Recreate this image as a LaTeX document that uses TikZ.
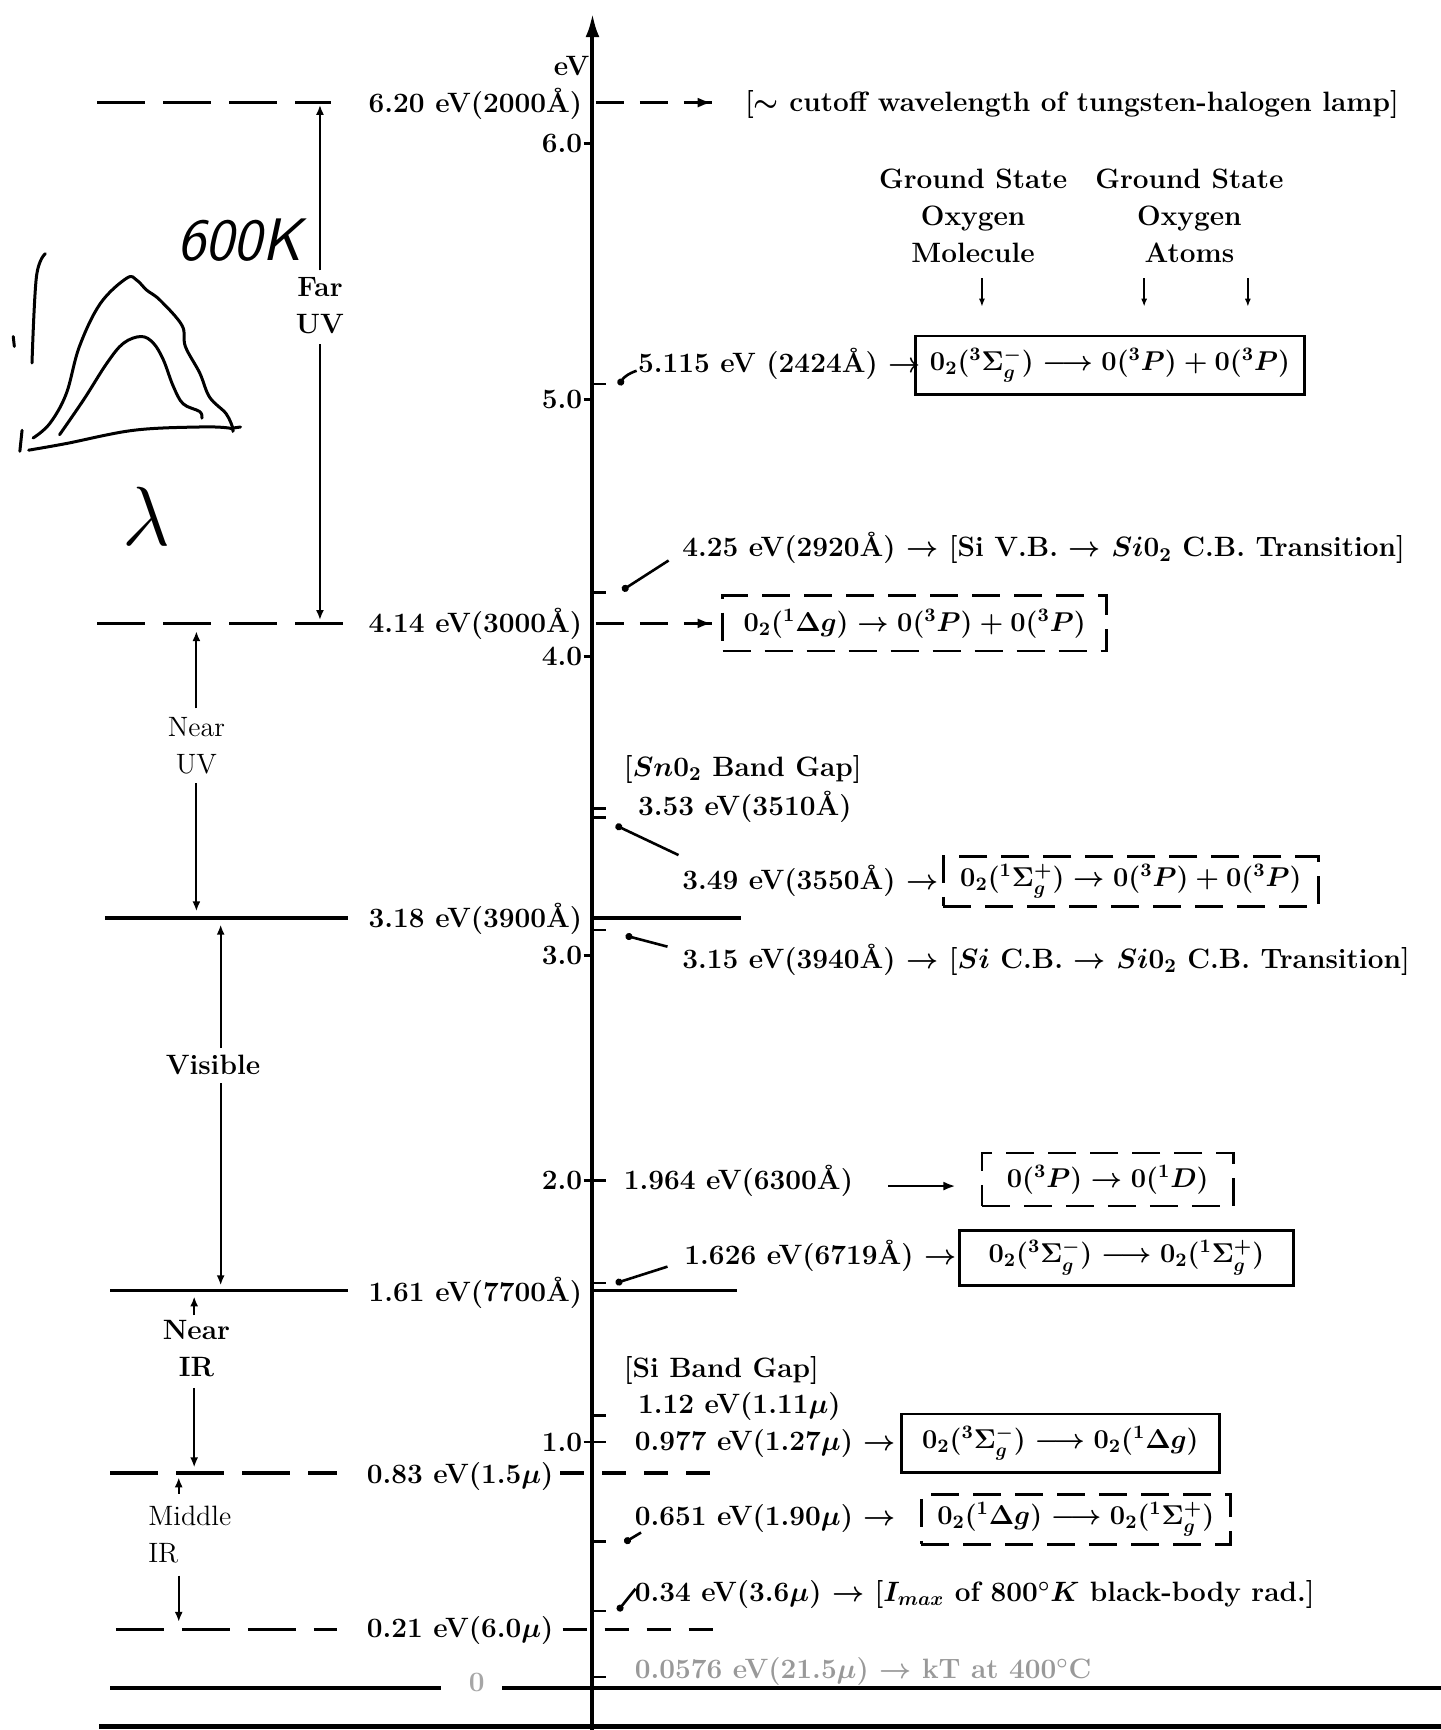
\RequirePackage{fix-cm}
\documentclass[tikz,border=0pt]{standalone}
\usepackage{fontspec}
\usepackage{amsmath}
\usetikzlibrary{arrows.meta}
\newcommand{\lbl}{\fontsize{14}{18.5}\selectfont\bfseries\boldmath}
\newcommand{\fml}{\fontsize{13.6}{18.5}\selectfont\bfseries\boldmath}
\newcommand{\lbr}{\fontsize{14}{18.5}\selectfont}
\begin{document}
\begin{tikzpicture}[x=0.5517pt,y=-0.5517pt,
  every node/.style={font=\lbl, inner sep=0pt},
  axisline/.style={line width=2pt},
  lvl/.style={line width=1.6pt},
  dsh/.style={lvl, dash pattern=on 24pt off 9pt},
  tick/.style={line width=1.3pt},
  rarrow/.style={line width=1pt, -{Latex[length=5pt,width=4pt]}},
  ptr/.style={line width=1.3pt, -{Circle[length=3.5pt]}},
  bx/.style 2 args={minimum width=#1*0.5517pt, minimum height=#2*0.5517pt},
  sbox/.style={draw, line width=1.4pt, font=\fml},
  dbox/.style={draw, line width=1.4pt, dash pattern=on 14pt off 7pt, font=\fml},
  hand/.style={line width=1.5pt, line cap=round, line join=round}
]
\useasboundingbox (0,0) rectangle (1306,1568);

% ---------------- main axis ----------------
\coordinate (axb) at (537,1568);
\coordinate (axt) at (537,12);
\draw[axisline, -{Latex[length=12pt,width=7pt]}] (axb) -- (axt);
\node (ev) at (518,60) {eV};

% left ticks with values
\foreach \v/\yy/\n in {6.0/130/a, 5.0/362/b, 4.0/595/c, 3.0/866/d, 2.0/1070/e, 1.0/1307/f}{
  \coordinate (tk\n) at (529,\yy);
  \draw[tick] (tk\n) -- (537,\yy);
  \node[anchor=east] (tl\n) at (528,\yy) {\v};
}
% right ticks
\foreach \yy in {348, 537, 733, 741, 843, 1070, 1163, 1283, 1307, 1397, 1460, 1520}{
  \draw[tick] (537,\yy) -- (549,\yy);
}

% ---------------- region boundaries (left) ----------------
% 6.20
\coordinate (d620a) at (88,93);  \coordinate (d620b) at (300,93);
\draw[dsh] (d620a) -- (d620b);
\node[anchor=east] (t620) at (528,94) {6.20 eV(2000\AA)};
\coordinate (d620c) at (540,93); \coordinate (d620d) at (645,93);
\draw[dsh, dash pattern=on 14pt off 8pt] (d620c) -- (d620d);
\draw[line width=1.2pt, -{Latex[length=7pt,width=5pt]}] (630,93) -- (d620d);
\node[anchor=west] (cut) at (675,95) {[$\sim$ cutoff wavelength of tungsten-halogen lamp]};

% 4.14
\coordinate (d414a) at (88,565);  \coordinate (d414b) at (322,565);
\draw[dsh] (d414a) -- (d414b);
\node[anchor=east] (t414) at (528,565) {4.14 eV(3000\AA)};
\coordinate (d414c) at (540,565); \coordinate (d414d) at (645,565);
\draw[dsh, dash pattern=on 14pt off 8pt] (d414c) -- (d414d);
\draw[line width=1.2pt, -{Latex[length=7pt,width=5pt]}] (630,565) -- (d414d);

% 3.18
\coordinate (s318a) at (95,832); \coordinate (s318b) at (315,832);
\draw[lvl] (s318a) -- (s318b);
\node[anchor=east] (t318) at (528,833) {3.18 eV(3900\AA)};
\coordinate (s318c) at (537,832); \coordinate (s318d) at (672,832);
\draw[lvl] (s318c) -- (s318d);

% 1.61
\coordinate (s161a) at (100,1170); \coordinate (s161b) at (315,1170);
\draw[lvl] (s161a) -- (s161b);
\node[anchor=east] (t161) at (528,1172) {1.61 eV(7700\AA)};
\coordinate (s161c) at (537,1170); \coordinate (s161d) at (668,1170);
\draw[lvl] (s161c) -- (s161d);

% 0.83
\coordinate (d083a) at (100,1335); \coordinate (d083b) at (305,1335);
\draw[dsh] (d083a) -- (d083b);
\node[anchor=east] (t083) at (502,1338) {0.83 eV(1.5$\mu$)};
\coordinate (d083c) at (508,1335); \coordinate (d083d) at (655,1335);
\draw[dsh, dash pattern=on 12pt off 9pt] (d083c) -- (d083d);

% 0.21
\coordinate (d021a) at (105,1477); \coordinate (d021b) at (305,1477);
\draw[dsh] (d021a) -- (d021b);
\node[anchor=east] (t021) at (502,1478) {0.21 eV(6.0$\mu$)};
\coordinate (d021c) at (510,1477); \coordinate (d021d) at (650,1477);
\draw[dsh, dash pattern=on 12pt off 9pt] (d021c) -- (d021d);

% 0 level
\coordinate (z0a) at (100,1530); \coordinate (z0b) at (400,1530);
\coordinate (z0c) at (455,1530); \coordinate (z0d) at (1306,1530);
\draw[lvl] (z0a) -- (z0b);
\draw[lvl] (z0c) -- (z0d);
\node[text=black!35] (zero) at (432,1525) {0};
\coordinate (bota) at (90,1565); \coordinate (botb) at (1306,1565);
\draw[line width=2.4pt] (bota) -- (botb);

% ---------------- region names ----------------
\node[align=center] (far) at (290,277) {Far\\UV};
\coordinate (farT) at (290,95); \coordinate (farB) at (290,562);
\coordinate (farS1) at (290,245); \coordinate (farS2) at (290,312);
\draw[rarrow] (farS1) -- (farT);
\draw[rarrow] (farS2) -- (farB);

\node[align=center, font=\lbr] (nuv) at (178,676) {Near\\UV};
\coordinate (nuvT) at (178,572); \coordinate (nuvB) at (178,826);
\coordinate (nuvS1) at (178,642); \coordinate (nuvS2) at (178,710);
\draw[rarrow] (nuvS1) -- (nuvT);
\draw[rarrow] (nuvS2) -- (nuvB);

\node (vis) at (193,965) {Visible};
\coordinate (visT) at (200,838); \coordinate (visB) at (200,1165);
\draw[rarrow] (200,950) -- (visT);
\draw[rarrow] (200,982) -- (visB);

\node[align=center] (nir) at (178,1222) {Near\\IR};
\coordinate (nirT) at (176,1175); \coordinate (nirB) at (176,1330);
\draw[rarrow] (176,1192) -- (nirT);
\draw[rarrow] (176,1258) -- (nirB);

\node[align=left, font=\lbr] (mir) at (172,1391) {Middle\\IR};
\coordinate (mirT) at (162,1339); \coordinate (mirB) at (162,1470);
\draw[rarrow] (162,1354) -- (mirT);
\draw[rarrow] (162,1428) -- (mirB);

% ---------------- headings ----------------
\node[align=center] (gsm) at (882,196) {Ground State\\Oxygen\\Molecule};
\node[align=center] (gsa) at (1078,196) {Ground State\\Oxygen\\Atoms};
\foreach \xx in {890,1037,1131}{
  \draw[line width=0.9pt, -{Latex[length=4pt,width=3pt]}] (\xx,252) -- (\xx,278);
}

% ---------------- transitions ----------------
% 5.115
\node[anchor=west] (l5115) at (578,330) {5.115 eV (2424\AA) $\rightarrow$};
\node[sbox, bx={352}{53}] (b5115) at (1006,331) {$0_2(^3\Sigma_g^-) \longrightarrow 0(^3P) + 0(^3P)$};
\coordinate (k5115) at (561,349);
\draw[ptr] (577,336) to[bend right=20] (k5115);

% 4.25
\node[anchor=west] (l425) at (618,497) {4.25 eV(2920\AA) $\rightarrow$ [Si V.B. $\rightarrow$ $Si0_2$ C.B. Transition]};
\coordinate (k425) at (564,535);
\draw[ptr] (606,508) -- (k425);

% 4.14 box
\node[dbox, bx={348}{50}] (b414) at (829,565) {$0_2(^1\Delta g) \rightarrow 0(^3P) + 0(^3P)$};

% SnO2
\node[anchor=west] (sno) at (565,697) {[$Sn0_2$ Band Gap]};
\node[anchor=west] (l353) at (578,731) {3.53 eV(3510\AA)};

% 3.49
\node[anchor=west] (l349) at (618,798) {3.49 eV(3550\AA) $\rightarrow$};
\node[dbox, bx={340}{45}] (b349) at (1025,799) {$0_2(^1\Sigma_g^+) \rightarrow 0(^3P) + 0(^3P)$};
\coordinate (k349) at (558,748);
\draw[ptr] (615,775) -- (k349);

% 3.15
\node[anchor=west] (l315) at (618,870) {3.15 eV(3940\AA) $\rightarrow$ [$Si$ C.B. $\rightarrow$ $Si0_2$ C.B. Transition]};
\coordinate (k315) at (567,848);
\draw[ptr] (605,858) -- (k315);

% 1.964
\node[anchor=west] (l1964) at (565,1070) {1.964 eV(6300\AA)};
\node[dbox, bx={228}{48}] (b1964) at (1004,1069) {$0(^3P) \rightarrow 0(^1D)$};
\coordinate (a1964s) at (805,1075); \coordinate (a1964e) at (866,1075);
\draw[line width=1.3pt, -{Latex[length=6pt,width=4.5pt]}] (a1964s) -- (a1964e);

% 1.626
\node[anchor=west] (l1626) at (620,1138) {1.626 eV(6719\AA) $\rightarrow$};
\node[sbox, bx={302}{50}] (b1626) at (1021,1140) {$0_2(^3\Sigma_g^-) \longrightarrow 0_2(^1\Sigma_g^+)$};
\coordinate (k1626) at (558,1163);
\draw[ptr] (605,1148) -- (k1626);

% Si band gap
\node[anchor=west] (sibg) at (565,1242) {[Si Band Gap]};
\node[anchor=west] (l112) at (578,1275) {1.12 eV(1.11$\mu$)};

% 0.977
\node[anchor=west] (l0977) at (575,1308) {0.977 eV(1.27$\mu$) $\rightarrow$};
\node[sbox, bx={288}{53}] (b0977) at (961,1308) {$0_2(^3\Sigma_g^-) \longrightarrow 0_2(^1\Delta g)$};

% 0.651
\node[anchor=west] (l0651) at (575,1376) {0.651 eV(1.90$\mu$) $\rightarrow$};
\node[dbox, bx={280}{45}] (b0651) at (975,1377) {$0_2(^1\Delta g) \longrightarrow 0_2(^1\Sigma_g^+)$};
\coordinate (k0651) at (566,1398);
\draw[ptr] (581,1389) -- (k0651);

% 0.34
\node[anchor=west] (l034) at (575,1445) {0.34 eV(3.6$\mu$) $\rightarrow$ [$I_{max}$ of 800$^\circ K$ black-body rad.]};
\coordinate (k034) at (560,1460);
\draw[ptr] (576,1440) -- (k034);

% 0.0576 (faded)
\node[anchor=west, text=black!40] (l0576) at (575,1515) {0.0576 eV(21.5$\mu$) $\rightarrow$ kT at 400$^\circ$C};

% ---------------- handwritten sketch ----------------
\node[font=\fontsize{30}{30}\selectfont\sffamily\itshape] (hk) at (217,218) {600K};
\node[font=\fontsize{42}{42}\selectfont] (hl) at (133,468) {$\lambda$};
\draw[hand] plot[smooth, tension=0.6] coordinates {(30,397) (45,384) (60,357) (72,314) (91,275) (115,252) (124,254) (133,263) (145,272) (165,295) (168,314) (181,338) (190,360) (205,375) (211,388)};
\draw[hand] (211,388) -- (218,387);
\draw[hand] plot[smooth, tension=0.6] coordinates {(54,394) (76,362) (97,329) (112,311) (128,305) (139,311) (148,326) (157,350) (166,366) (181,373) (183,379)};
\draw[hand] plot[smooth, tension=0.6] coordinates {(26,408) (60,402) (121,390) (181,387) (208,388) (211,391)};
\draw[hand] plot[smooth, tension=0.6] coordinates {(41,230) (33,251) (29,329)};
\draw[hand] (12,305) -- (13,314);
\draw[hand] (20,390) -- (18,409);
\end{tikzpicture}
\end{document}
